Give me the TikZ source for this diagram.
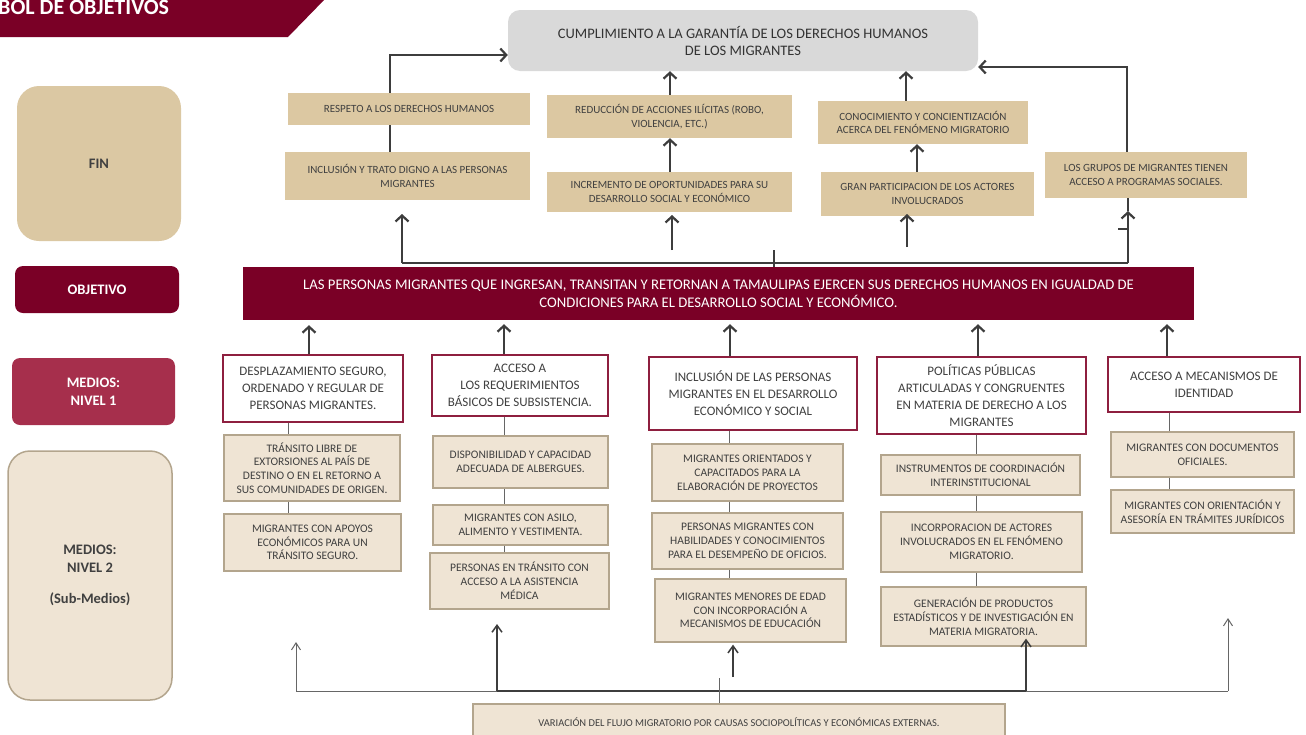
\documentclass[tikz,border=0pt]{standalone}
\usepackage{fontspec}
\setmainfont{Carlito}
\usetikzlibrary{arrows.meta}
\definecolor{maroon}{HTML}{7A0026}
\definecolor{crimson}{HTML}{A62F4C}
\definecolor{tan}{HTML}{DCC8A2}
\definecolor{fintan}{HTML}{DBC8A3}
\definecolor{beige}{HTML}{EFE4D4}
\definecolor{beigeline}{HTML}{B3A58D}
\definecolor{goalgray}{HTML}{D9D9D9}
\definecolor{txt}{HTML}{404040}
\definecolor{arr}{HTML}{3D3D3D}
\definecolor{thinarr}{HTML}{666666}
\definecolor{mline}{HTML}{8E1F3F}
\begin{document}
\begin{tikzpicture}[x=1pt,y=-1pt,
  box/.style={inner sep=2pt, align=center, text=txt},
  fbox/.style={box, fill=tan, font=\fontsize{11}{13.5}\selectfont},
  mbox/.style={box, fill=white, draw=mline, line width=1.4pt, font=\fontsize{13}{17}\selectfont},
  sbox/.style={box, fill=beige, draw=beigeline, line width=1.3pt, font=\fontsize{11.5}{13.8}\selectfont},
  lab/.style={align=center, font=\bfseries\fontsize{14.5}{17.5}\selectfont},
  arrT/.style={draw=arr, line width=2.2pt, -{Straight Barb[length=6pt,width=13pt]}},
  lineT/.style={draw=arr, line width=2.2pt},
  conn/.style={draw=thinarr, line width=1pt},
  arrThin/.style={draw=thinarr, line width=1pt, -{Straight Barb[length=7pt,width=9pt]}},
  arrMid/.style={draw=arr, line width=1.5pt, -{Straight Barb[length=7pt,width=10pt]}}
]
\useasboundingbox (0,0) rectangle (1306,734);
% banner
\fill[maroon] (-2,-2) -- (326,-2) -- (288,37) -- (-2,37) -- cycle;
\node[anchor=base west, inner sep=0, text=white, font=\bfseries\fontsize{22}{22}\selectfont] (title) at (-2,14.5) {BOL DE OBJETIVOS};

% left labels
\node[lab, fill=fintan, rounded corners=22pt, minimum width=164pt, minimum height=155pt, text=txt] (fin) at (99,163.5) {FIN};
\node[lab, fill=maroon, rounded corners=8pt, minimum width=164pt, minimum height=47pt, text=white] (objl) at (97,289.5) {OBJETIVO};
\node[lab, fill=crimson, rounded corners=8pt, minimum width=163pt, minimum height=67pt, text=white] (m1l) at (93.5,391.5) {MEDIOS:\\NIVEL 1};
\node[lab, fill=beige, draw=beigeline, line width=1.5pt, rounded corners=22pt, minimum width=164pt, minimum height=249pt, text=txt] (m2l) at (90,575.5) {MEDIOS:\\NIVEL 2\\[14pt](Sub-Medios)};

% goal
\node[box, fill=goalgray, rounded corners=12pt, minimum width=470pt, minimum height=61pt, font=\fontsize{14.5}{17}\selectfont, text=black!80] (goal) at (743,40.5) {CUMPLIMIENTO A LA GARANTÍA DE LOS DERECHOS HUMANOS\\DE LOS MIGRANTES};

% fin boxes
\node[fbox, minimum width=242pt, minimum height=32pt] (F1) at (409,109) {RESPETO A LOS DERECHOS HUMANOS};
\node[fbox, minimum width=245pt, minimum height=48pt] (F2) at (407.5,176) {INCLUSIÓN Y TRATO DIGNO A LAS PERSONAS\\MIGRANTES};
\node[fbox, minimum width=245pt, minimum height=43pt] (F3) at (669.5,116.5) {REDUCCIÓN DE ACCIONES ILÍCITAS (ROBO,\\VIOLENCIA, ETC.)};
\node[fbox, minimum width=245pt, minimum height=40pt] (F4) at (669.5,192) {INCREMENTO DE OPORTUNIDADES PARA SU\\DESARROLLO SOCIAL Y ECONÓMICO};
\node[fbox, minimum width=210pt, minimum height=43pt] (F5) at (923,122.5) {CONOCIMIENTO Y CONCIENTIZACIÓN\\ACERCA DEL FENÓMENO MIGRATORIO};
\node[fbox, minimum width=213pt, minimum height=44pt] (F6) at (927.5,194) {GRAN PARTICIPACION DE LOS ACTORES\\INVOLUCRADOS};
\node[fbox, minimum width=202pt, minimum height=46pt] (F7) at (1146,175) {LOS GRUPOS DE MIGRANTES TIENEN\\ACCESO A PROGRAMAS SOCIALES.};

% objective
\node[box, fill=maroon, minimum width=951pt, minimum height=53pt, text=white, font=\fontsize{14.7}{18}\selectfont] (obj) at (718.5,293.5) {LAS PERSONAS MIGRANTES QUE INGRESAN, TRANSITAN Y RETORNAN A TAMAULIPAS EJERCEN SUS DERECHOS HUMANOS EN IGUALDAD DE\\CONDICIONES PARA EL DESARROLLO SOCIAL Y ECONÓMICO.};

% medios nivel 1
\node[mbox, minimum width=180pt, minimum height=67pt] (M1) at (313,388.5) {DESPLAZAMIENTO SEGURO,\\ORDENADO Y REGULAR DE\\PERSONAS MIGRANTES.};
\node[mbox, minimum width=176pt, minimum height=61pt] (M2) at (520,385.5) {ACCESO A\\LOS REQUERIMIENTOS\\BÁSICOS DE SUBSISTENCIA.};
\node[mbox, minimum width=208pt, minimum height=73pt] (M3) at (753,393.5) {INCLUSIÓN DE LAS PERSONAS\\MIGRANTES EN EL DESARROLLO\\ECONÓMICO Y SOCIAL};
\node[mbox, minimum width=209pt, minimum height=77pt] (M4) at (981.5,395.5) {POLÍTICAS PÚBLICAS\\ARTICULADAS Y CONGRUENTES\\EN MATERIA DE DERECHO A LOS\\MIGRANTES};
\node[mbox, minimum width=192pt, minimum height=55pt] (M5) at (1204,384.5) {ACCESO A MECANISMOS DE\\IDENTIDAD};

% medios nivel 2
\node[sbox, minimum width=176pt, minimum height=66pt] (S11) at (312,468) {TRÁNSITO LIBRE DE\\EXTORSIONES AL PAÍS DE\\DESTINO O EN EL RETORNO A\\SUS COMUNIDADES DE ORIGEN.};
\node[sbox, minimum width=177pt, minimum height=57pt] (S12) at (312.5,542.5) {MIGRANTES CON APOYOS\\ECONÓMICOS PARA UN\\TRÁNSITO SEGURO.};
\node[sbox, minimum width=175pt, minimum height=52pt] (S21) at (520.5,462) {DISPONIBILIDAD Y CAPACIDAD\\ADECUADA DE ALBERGUES.};
\node[sbox, minimum width=175pt, minimum height=40pt] (S22) at (520.5,525) {MIGRANTES CON ASILO,\\ALIMENTO Y VESTIMENTA.};
\node[sbox, minimum width=179pt, minimum height=56pt] (S23) at (519.5,581) {PERSONAS EN TRÁNSITO CON\\ACCESO A LA ASISTENCIA\\MÉDICA};
\node[sbox, minimum width=191pt, minimum height=57pt] (S31) at (747.5,472.5) {MIGRANTES ORIENTADOS Y\\CAPACITADOS PARA LA\\ELABORACIÓN DE PROYECTOS};
\node[sbox, minimum width=191pt, minimum height=56pt] (S32) at (747.5,541) {PERSONAS MIGRANTES CON\\HABILIDADES Y CONOCIMIENTOS\\PARA EL DESEMPEÑO DE OFICIOS.};
\node[sbox, minimum width=191pt, minimum height=63pt] (S33) at (750.5,610.5) {MIGRANTES MENORES DE EDAD\\CON INCORPORACIÓN A\\MECANISMOS DE EDUCACIÓN};
\node[sbox, minimum width=199pt, minimum height=40pt] (S41) at (980.5,475) {INSTRUMENTOS DE COORDINACIÓN\\INTERINSTITUCIONAL};
\node[sbox, minimum width=201pt, minimum height=60pt] (S42) at (981.5,542) {INCORPORACION DE ACTORES\\INVOLUCRADOS EN EL FENÓMENO\\MIGRATORIO.};
\node[sbox, minimum width=205pt, minimum height=59pt] (S43) at (983.5,616.5) {GENERACIÓN DE PRODUCTOS\\ESTADÍSTICOS Y DE INVESTIGACIÓN EN\\MATERIA MIGRATORIA.};
\node[sbox, minimum width=183pt, minimum height=45pt] (S51) at (1202.5,454.5) {MIGRANTES CON DOCUMENTOS\\OFICIALES.};
\node[sbox, minimum width=183pt, minimum height=43pt] (S52) at (1202.5,511.5) {MIGRANTES CON ORIENTACIÓN Y\\ASESORÍA EN TRÁMITES JURÍDICOS};

% bottom cause
\node[sbox, minimum width=532pt, minimum height=36pt, font=\fontsize{10.5}{12}\selectfont] (cause) at (739,722) {VARIACIÓN DEL FLUJO MIGRATORIO POR CAUSAS SOCIOPOLÍTICAS Y ECONÓMICAS EXTERNAS.};

% ---- top connectors
\draw[lineT] (F2.north -| 390,0) -- (F1.south -| 390,0);
\draw[arrT] (F1.north -| 390,0) |- ([yshift=-14.5pt]goal.west);
\draw[arrT] (F3.north -| 670,0) -- (goal.south -| 670,0);
\draw[arrT] (F4.north -| 670,0) -- (F3.south -| 670,0);
\draw[arrT] (F5.north -| 906,0) -- (goal.south -| 906,0);
\draw[arrT] (F6.north -| 917,0) -- (F5.south -| 917,0);
\draw[arrT] (F7.north -| 1127,0) |- ([yshift=-26.5pt]goal.east);

% bracket above objective
\coordinate (bl) at (402,263);
\coordinate (br) at (1128,263);
\coordinate (tk) at (774,250);
\coordinate (a2) at (402,214);
\coordinate (a4b) at (672,250);
\coordinate (a4t) at (672,215);
\coordinate (a6b) at (907,247);
\coordinate (a6t) at (907,214);
\coordinate (a7) at (1128,211);
\draw[lineT] (bl) -- (br);
\draw[arrT] (bl) -- (a2);
\draw[arrT] (br) -- (a7);
\draw[lineT] (a7) -- (F7.south -| a7);
\draw[lineT] (1118,229) -- (1128,229);
\draw[lineT] (tk) -- (obj.north -| tk);
\draw[arrT] (a4b) -- (a4t);
\draw[arrT] (a6b) -- (a6t);

% medios 1 to objective
\draw[arrT] (M1.north -| 309,0) -- ([yshift=-5pt]obj.south -| 309,0);
\draw[arrT] (M2.north -| 504,0) -- ([yshift=-4pt]obj.south -| 504,0);
\draw[arrT] (M3.north -| 730,0) -- ([yshift=-4pt]obj.south -| 730,0);
\draw[arrT] (M4.north -| 978,0) -- ([yshift=-4pt]obj.south -| 978,0);
\draw[arrT] (M5.north -| 1167,0) -- ([yshift=-4pt]obj.south -| 1167,0);

% vertical chains
\draw[conn] (M1.south -| 288,0) -- (S11.north -| 288,0) (S11.south -| 288,0) -- (S12.north -| 288,0);
\draw[conn] (M2.south -| 504,0) -- (S21.north -| 504,0) (S21.south -| 504,0) -- (S22.north -| 504,0) (S22.south -| 504,0) -- (S23.north -| 504,0);
\draw[conn] (M3.south -| 729,0) -- (S31.north -| 729,0) (S31.south -| 729,0) -- (S32.north -| 729,0) (S32.south -| 729,0) -- (S33.north -| 729,0);
\draw[conn] (M4.south -| 976,0) -- (S41.north -| 976,0) (S41.south -| 976,0) -- (S42.north -| 976,0) (S42.south -| 976,0) -- (S43.north -| 976,0);
\draw[conn] (M5.south -| 1169,0) -- (S51.north -| 1169,0) (S51.south -| 1169,0) -- (S52.north -| 1169,0);

% bottom connectors
\coordinate (bL) at (296,691);
\coordinate (bR) at (1228,691);
\coordinate (b2) at (497,691);
\coordinate (b4) at (1026,691);
\coordinate (bLt) at (296,642);
\coordinate (bRt) at (1228,618);
\coordinate (b2t) at (497,624);
\coordinate (cm) at (719,678);
\coordinate (c3b) at (733,677);
\draw[conn] (bL) -- (bR);
\draw[draw=arr, line width=2pt] (b2) -- (b4);
\draw[arrThin] (bL) -- (bLt);
\draw[arrThin] (bR) -- (bRt);
\draw[arrMid] (b2) -- (b2t);
\draw[arrMid] (b4) -- ([yshift=8pt]S43.south -| b4);
\draw[conn] (cause.north -| cm) -- (cm);
\draw[arrMid] (c3b) -- ([yshift=-2pt]S33.south -| c3b);
\end{tikzpicture}
\end{document}
